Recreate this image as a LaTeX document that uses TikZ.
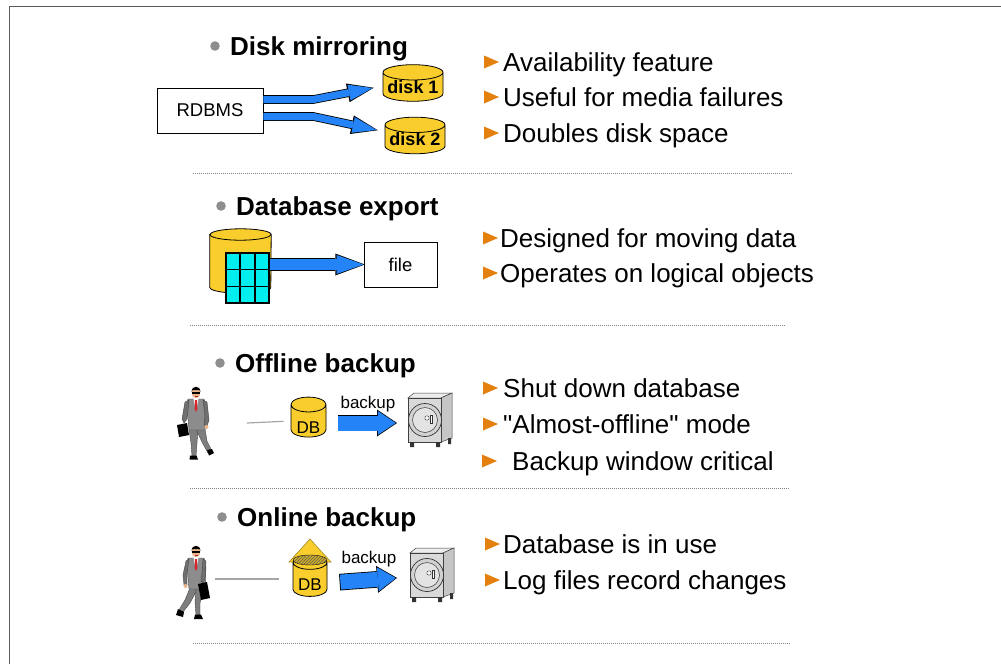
\documentclass[tikz,border=0pt]{standalone}
\usepackage{fontspec}
\setmainfont{Liberation Sans}
\newfontfamily\itemfont{Liberation Sans}
\usepackage{tikz}
\usetikzlibrary{arrows.meta,positioning,shapes.geometric,calc,patterns}
\definecolor{nframe}{HTML}{5A5A5A}
\definecolor{nblue}{HTML}{2383F7}
\definecolor{ndisk}{HTML}{F9CE2C}
\definecolor{ncyan}{HTML}{00EEEE}
\definecolor{ntri}{HTML}{E3800E}
\definecolor{ndot}{HTML}{8E8E8E}
\definecolor{nsuit}{HTML}{8C8C8C}
\definecolor{nskin}{HTML}{E9B48A}
\definecolor{ntie}{HTML}{D8242A}

% head, collar, tie and jacket of the walking man
\newcommand\walkertop{%
  \filldraw[fill=nsuit, draw=nsuit!50!black, line width=0.4pt]
    (-8,13) -- (8,13) -- (10,22) -- (9,44) -- (-7,44) -- (-9,22) -- cycle;
  \fill[white] (-2.5,13) -- (2.5,13) -- (0,25) -- cycle;
  \fill[ntie] (-1,14) -- (1,14) -- (1.3,23) -- (0,26) -- (-1.3,23) -- cycle;
  \fill[nskin] (0,6.5) ellipse [x radius=4.2, y radius=5.8];
  \fill[black] (-4.4,6) .. controls (-4.6,-1) and (4.6,-1) .. (4.4,6) -- (3.6,4) -- (-3.6,4) -- cycle;
  \fill[black] (-3.8,5.6) rectangle (3.8,7.6);
  \fill[ntie!80!black] (-1.5,10) rectangle (1.5,10.8);
  \fill[white] (-2,11.5) rectangle (2,13.5);
}

\tikzset{
  title/.style={anchor=base west, inner sep=0pt, font=\fontsize{26}{30}\selectfont\bfseries},
  item/.style={anchor=base west, inner sep=0pt, font=\itemfont\fontsize{26}{30}\selectfont},
  box/.style={draw, line width=0.8pt, inner sep=0pt, font=\fontsize{18.5}{20}\selectfont},
  disk/.style={cylinder, shape border rotate=90, draw, line width=0.8pt, fill=ndisk,
               inner sep=0pt, font=\fontsize{18}{20}\selectfont\bfseries},
  dbase/.style={disk, font=\fontsize{17}{19}\selectfont},
  tbl/.style={draw, fill=ncyan, line width=1.5pt, minimum width=43, minimum height=50, inner sep=0pt},
  sep/.style={draw=gray, line width=0.8pt, dash pattern=on 1pt off 1pt},
  wire/.style={draw=gray!70, line width=1.2pt},
  frame/.style={draw=nframe, line width=1.6pt},
  lbl/.style={anchor=base, inner sep=0pt, font=\fontsize{17}{19}\selectfont},
  fatA/.style={line width=7pt, draw=nblue, line join=miter,
    -{Triangle[length=24pt,width=16pt,line width=0pt]},
    preaction={draw=black, line width=8.6pt, line join=miter, shorten >=-1.2pt,
      -{Triangle[length=26.5pt,width=19pt,line width=0pt]}}},
  fatB/.style={line width=11pt, draw=nblue, line join=miter,
    -{Triangle[length=27pt,width=19pt,line width=0pt]},
    preaction={draw=black, line width=12.6pt, shorten >=-1.2pt, shorten <=-0.8pt,
      -{Triangle[length=29.5pt,width=22pt,line width=0pt]}}},
  fatC/.style={line width=15pt, draw=nblue, line join=miter,
    -{Triangle[length=18pt,width=24pt,line width=0pt]},
    preaction={draw=black, line width=16.6pt, shorten >=-1.2pt, shorten <=-0.8pt,
      -{Triangle[length=20pt,width=27pt,line width=0pt]}}},
  % the safe, drawn round its centre
  vault/.pic={
    \node[inner sep=0pt, minimum width=44, minimum height=54] (-box) {};
    \filldraw[fill=gray!15, draw=gray!50!black, line width=0.5pt]
      (-22,-22) -- (-16,-27) -- (22,-27) -- (11,-22) -- cycle;
    \filldraw[fill=gray!45, draw=gray!50!black, line width=0.5pt]
      (11,-22) -- (22,-27) -- (22,18) -- (11,22) -- cycle;
    \filldraw[fill=gray!30, draw=gray!50!black, line width=0.5pt] (-22,-22) rectangle (11,22);
    \fill[gray!40!black] (-20,22) rectangle (-16,27) (6,22) rectangle (10,27) (18,18) rectangle (21,24);
    \filldraw[fill=gray!35, draw=gray!40!black, line width=0.7pt] (-5,0) circle [radius=16.5];
    \filldraw[fill=gray!22, draw=gray!40!black, line width=0.5pt] (-5,0) circle [radius=12.5];
    \filldraw[fill=white, draw=gray!40!black, line width=0.4pt] (-3,-2) circle [radius=2.2];
    \filldraw[fill=white, draw=gray!40!black, line width=0.4pt] (0.5,-5) rectangle (2.5,3);
  },
  % walking man, case in the left hand
  walkerA/.pic={
    \filldraw[fill=nsuit!90!black, draw=nsuit!50!black, line width=0.4pt]
      (-7,43) -- (2,43) -- (1,57) -- (0,70) -- (-4,70) -- (-5,57) -- cycle;
    \filldraw[fill=nsuit!90!black, draw=nsuit!50!black, line width=0.4pt]
      (0,43) -- (9,43) -- (11,55) -- (16,65) -- (12,67) -- (6,56) -- cycle;
    \fill[black] (-6,69.5) -- (0.5,69.5) -- (2,73.5) -- (-6.5,73.5) -- cycle;
    \fill[black] (11,64) -- (16,63) -- (18,67) -- (13,69.5) -- cycle;
    \walkertop
    \filldraw[fill=nsuit!80!black, draw=nsuit!50!black, line width=0.4pt]
      (7,14) -- (11,16) -- (13,34) -- (11,40) -- (8,39) -- (9,30) -- cycle;
    \filldraw[fill=nsuit!80!black, draw=nsuit!50!black, line width=0.4pt]
      (-7,14) -- (-11,16) -- (-14,33) -- (-12,37) -- (-9,33) -- (-8,24) -- cycle;
    \fill[nskin] (10.5,41) circle [radius=2];
    \fill[black] (-19,39) -- (-9,37) -- (-7,49) -- (-17,51) -- cycle;
  },
  % walking man, case in the right hand
  walkerB/.pic={
    \filldraw[fill=nsuit!90!black, draw=nsuit!50!black, line width=0.4pt]
      (-6,43) -- (2,43) -- (-6,58) -- (-13,67) -- (-17,65) -- (-11,55) -- cycle;
    \filldraw[fill=nsuit!90!black, draw=nsuit!50!black, line width=0.4pt]
      (0,43) -- (8,43) -- (4,58) -- (4,70) -- (0,70) -- (-1,57) -- cycle;
    \fill[black] (-18,64) -- (-12,67) -- (-13,72) -- (-20,70) -- cycle;
    \fill[black] (-1,69.5) -- (5,69.5) -- (7,74) -- (-2,74) -- cycle;
    \walkertop
    \filldraw[fill=nsuit!80!black, draw=nsuit!50!black, line width=0.4pt]
      (-7,14) -- (-10,16) -- (-13,30) -- (-12,40) -- (-9,40) -- (-9,28) -- cycle;
    \filldraw[fill=nsuit!80!black, draw=nsuit!50!black, line width=0.4pt]
      (7,14) -- (10,16) -- (9,34) -- (7,38) -- (5,36) -- (6,28) -- cycle;
    \fill[nskin] (-10.5,41) circle [radius=2];
    \fill[black] (2,39) -- (11,37) -- (14,53) -- (5,55) -- cycle;
  },
}

\begin{document}
\begin{tikzpicture}[x=1pt, y=-1pt]
  \useasboundingbox (0,0) rectangle (1001,664);
  \draw[frame] (9.5,664) -- (9.5,6.5) -- (1001,6.5);

  % section titles
  \node[title] (t1) at (230,55) {Disk mirroring};
  \node[title] (t2) at (236,215) {Database export};
  \node[title] (t3) at (235,372) {Offline backup};
  \node[title] (t4) at (237,526) {Online backup};
  \foreach \t in {t1,t2,t3,t4}
    \fill[ndot] ($(\t.base west)+(-15,-9)$) circle [radius=4.8];

  % bullet lists
  \node[item] (m1) at (503,71) {Availability feature};
  \node[item] (m2) at (503,106) {Useful for media failures};
  \node[item] (m3) at (503,142) {Doubles disk space};
  \node[item] (e1) at (500,247) {Designed for moving data};
  \node[item] (e2) at (500,282) {Operates on logical objects};
  \node[item] (f1) at (503,397) {Shut down database};
  \node[item] (f2) at (503,433) {"Almost-offline" mode};
  \node[item] (f3) at (512,470) {Backup window critical};
  \node[item] (o1) at (503,553) {Database is in use};
  \node[item] (o2) at (503,589) {Log files record changes};
  \foreach \n/\dx in {m1/4,m2/4,m3/4,e1/2,e2/2,f1/5,f2/5,f3/15,o1/3,o2/3}
    \fill[ntri] ($(\n.base west)+(-\dx,-9)$) -- ++(-15,-6.5) -- ++(0,13) -- cycle;

  \draw[sep] (193,173) -- (793,173);
  \draw[sep] (190,325) -- (786,325);
  \draw[sep] (190,488) -- (790,488);
  \draw[sep] (193,643) -- (790,643);

  % mirroring
  \node[box, minimum width=106, minimum height=45] (rdbms) at (210,110.5) {RDBMS};
  \node[disk, minimum width=60, minimum height=36, aspect=0.3] (disk1) at (413,87) {disk 1};
  \node[disk, minimum width=60, minimum height=35, aspect=0.3] (disk2) at (415,139.5) {disk 2};
  \draw[fatA] ($(rdbms.east)+(0,-11)$) -- ++(50,0) -- ($(disk1.west)+(-10,1)$);
  \draw[fatA] ($(rdbms.east)+(0,6)$) -- ++(50,0) -- ($(disk2.west)+(-8,-9.5)$);

  % export: drum with a table in front
  \node[inner sep=0pt, minimum width=61, minimum height=64] (dbexp) at (240.5,261) {};
  \filldraw[fill=ndisk, line width=0.8pt]
    ($(dbexp.north west)+(0,5.7)$) -- ($(dbexp.south west)+(0,-5.7)$)
    arc[start angle=180, end angle=0, x radius=30.5, y radius=5.7]
    -- ($(dbexp.north east)+(0,5.7)$)
    arc[start angle=0, end angle=-180, x radius=30.5, y radius=5.7] -- cycle;
  \draw[line width=0.8pt] ($(dbexp.north west)+(0,5.7)$)
    arc[start angle=180, end angle=0, x radius=30.5, y radius=5.7];
  \node[tbl] (tbl) at (247.5,278) {};
  \foreach \k in {1,2} {
    \draw[line width=1.5pt] ($(tbl.north west)!\k/3!(tbl.north east)$) -- ($(tbl.south west)!\k/3!(tbl.south east)$);
    \draw[line width=1.5pt] ($(tbl.north west)!\k/3!(tbl.south west)$) -- ($(tbl.north east)!\k/3!(tbl.south east)$);
  }
  \node[box, minimum width=73, minimum height=45] (file) at (400.5,264.5) {file};
  \draw[fatB] (tbl.east |- file.west) -- (file.west);

  % offline backup
  \pic at (196,386) {walkerA};
  \node[dbase, minimum width=35, minimum height=40, aspect=0.63] (dboff) at (308.5,421)
    {\raisebox{-12pt}[0pt][0pt]{DB}};
  \pic (vaultoff) at (430,420) {vault};
  \coordinate (offwire) at (247,423);
  \draw[wire, shorten >=7pt] (offwire) -- (dboff.west);
  \draw[fatC] ($(dboff.east)+(12,2)$) -- ($(vaultoff-box.west)+(-12,3)$);
  \node[lbl] (bk1) at (368,408) {backup};

  % online backup
  \pic at (196,545) {walkerB};
  \coordinate (dbtop) at (310,555);
  \filldraw[fill=ndisk, draw=ndisk!60!black, line width=0.5pt]
    ($(dbtop)+(0,-16)$) -- ($(dbtop)+(-21,7)$) -- ($(dbtop)+(21,7)$) -- cycle;
  \node[dbase, minimum width=34, minimum height=41, aspect=0.59, anchor=north] (dbon) at (dbtop)
    {\raisebox{-10.5pt}[0pt][0pt]{DB}};
  \draw[fill=ndisk!85!black, postaction={pattern=north east lines, pattern color=gray!70!black}]
    ($(dbon.north)+(0,5)$) ellipse [x radius=17, y radius=5];
  \pic (vaulton) at (432,575) {vault};
  \coordinate (onwire) at (215,579);
  \draw[wire, shorten >=14pt] (onwire) -- (onwire -| dbon.west);
  \draw[fatC] ($(dbon.east)+(13,2.5)$) -- ($(vaulton-box.west)+(-14,3)$);
  \node[lbl] (bk2) at (369,563) {backup};
\end{tikzpicture}
\end{document}
